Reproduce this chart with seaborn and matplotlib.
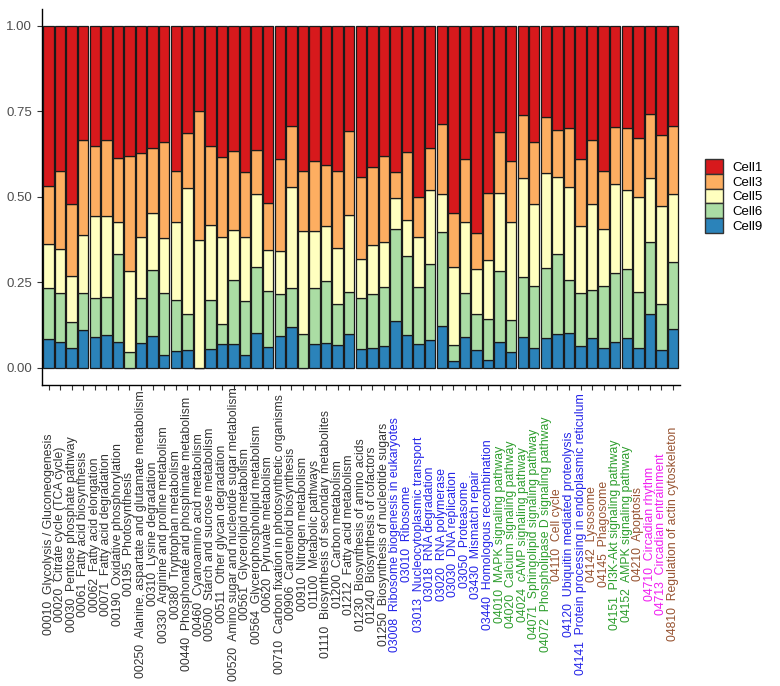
import matplotlib
matplotlib.use("Agg")
import matplotlib.pyplot as plt
from matplotlib.patches import Patch
import seaborn as sns
import pandas as pd
import numpy as np

pathways = [
    "00010  Glycolysis / Gluconeogenesis",
    "00020  Citrate cycle (TCA cycle)",
    "00030  Pentose phosphate pathway",
    "00061  Fatty acid biosynthesis",
    "00062  Fatty acid elongation",
    "00071  Fatty acid degradation",
    "00190  Oxidative phosphorylation",
    "00195  Photosynthesis",
    "00250  Alanine, aspartate and glutamate metabolism",
    "00310  Lysine degradation",
    "00330  Arginine and proline metabolism",
    "00380  Tryptophan metabolism",
    "00440  Phosphonate and phosphinate metabolism",
    "00460  Cyanoamino acid metabolism",
    "00500  Starch and sucrose metabolism",
    "00511  Other glycan degradation",
    "00520  Amino sugar and nucleotide sugar metabolism",
    "00561  Glycerolipid metabolism",
    "00564  Glycerophospholipid metabolism",
    "00620  Pyruvate metabolism",
    "00710  Carbon fixation in photosynthetic organisms",
    "00906  Carotenoid biosynthesis",
    "00910  Nitrogen metabolism",
    "01100  Metabolic pathways",
    "01110  Biosynthesis of secondary metabolites",
    "01200  Carbon metabolism",
    "01212  Fatty acid metabolism",
    "01230  Biosynthesis of amino acids",
    "01240  Biosynthesis of cofactors",
    "01250  Biosynthesis of nucleotide sugars",
    "03008  Ribosome biogenesis in eukaryotes",
    "03010  Ribosome",
    "03013  Nucleocytoplasmic transport",
    "03018  RNA degradation",
    "03020  RNA polymerase",
    "03030  DNA replication",
    "03050  Proteasome",
    "03430  Mismatch repair",
    "03440  Homologous recombination",
    "04010  MAPK signaling pathway",
    "04020  Calcium signaling pathway",
    "04024  cAMP signaling pathway",
    "04071  Sphingolipid signaling pathway",
    "04072  Phospholipase D signaling pathway",
    "04110  Cell cycle",
    "04120  Ubiquitin mediated proteolysis",
    "04141  Protein processing in endoplasmic reticulum",
    "04142  Lysosome",
    "04145  Phagosome",
    "04151  PI3K-Akt signaling pathway",
    "04152  AMPK signaling pathway",
    "04210  Apoptosis",
    "04710  Circadian rhythm",
    "04713  Circadian entrainment",
    "04810  Regulation of actin cytoskeleton",
]

# label colour groups (k=black, b=blue, g=green, n=brown, m=magenta)
label_groups = (["k"] * 30 + ["b"] * 9 + ["g"] * 5 + ["n"] + ["b"] * 2
                + ["n"] * 2 + ["g"] * 2 + ["n"] + ["m"] * 2 + ["n"])

cell9 = [0.083, 0.076, 0.057, 0.110, 0.091, 0.096, 0.076, 0.000, 0.073, 0.094,
         0.039, 0.049, 0.051, 0.000, 0.055, 0.070, 0.070, 0.037, 0.103, 0.061,
         0.093, 0.118, 0.000, 0.071, 0.074, 0.066, 0.098, 0.055, 0.059, 0.064,
         0.137, 0.096, 0.071, 0.081, 0.122, 0.020, 0.091, 0.052, 0.022, 0.076,
         0.045, 0.089, 0.058, 0.086, 0.098, 0.103, 0.063, 0.086, 0.059, 0.076,
         0.086, 0.057, 0.157, 0.052, 0.115]
cell6 = [0.149, 0.144, 0.077, 0.110, 0.112, 0.112, 0.257, 0.047, 0.132, 0.191,
         0.181, 0.149, 0.105, 0.000, 0.143, 0.057, 0.188, 0.158, 0.192, 0.164,
         0.124, 0.116, 0.098, 0.161, 0.180, 0.121, 0.124, 0.148, 0.158, 0.171,
         0.268, 0.231, 0.166, 0.224, 0.274, 0.046, 0.129, 0.104, 0.122, 0.208,
         0.094, 0.177, 0.181, 0.207, 0.236, 0.155, 0.157, 0.143, 0.180, 0.202,
         0.202, 0.165, 0.211, 0.134, 0.195]
cell5 = [0.131, 0.126, 0.134, 0.168, 0.240, 0.235, 0.094, 0.236, 0.178, 0.167,
         0.160, 0.227, 0.370, 0.374, 0.219, 0.254, 0.145, 0.188, 0.213, 0.119,
         0.125, 0.295, 0.302, 0.168, 0.160, 0.164, 0.224, 0.114, 0.142, 0.133,
         0.090, 0.105, 0.144, 0.216, 0.111, 0.229, 0.205, 0.134, 0.171, 0.228,
         0.286, 0.288, 0.240, 0.277, 0.224, 0.271, 0.194, 0.250, 0.168, 0.259,
         0.233, 0.276, 0.186, 0.288, 0.198]
cell3 = [0.168, 0.230, 0.212, 0.278, 0.206, 0.223, 0.187, 0.337, 0.244, 0.191,
         0.281, 0.151, 0.159, 0.376, 0.232, 0.236, 0.231, 0.188, 0.128, 0.138,
         0.267, 0.178, 0.176, 0.205, 0.179, 0.225, 0.247, 0.241, 0.229, 0.251,
         0.078, 0.198, 0.119, 0.123, 0.207, 0.159, 0.185, 0.103, 0.197, 0.178,
         0.179, 0.185, 0.182, 0.164, 0.137, 0.173, 0.196, 0.187, 0.168, 0.166,
         0.179, 0.175, 0.187, 0.206, 0.199]
cell1 = [0.469, 0.424, 0.520, 0.334, 0.351, 0.334, 0.386, 0.380, 0.373, 0.357,
         0.339, 0.424, 0.315, 0.250, 0.351, 0.383, 0.366, 0.429, 0.364, 0.518,
         0.391, 0.293, 0.424, 0.395, 0.407, 0.424, 0.307, 0.442, 0.412, 0.381,
         0.427, 0.370, 0.500, 0.356, 0.286, 0.546, 0.390, 0.607, 0.488, 0.310,
         0.396, 0.261, 0.339, 0.266, 0.305, 0.298, 0.390, 0.334, 0.425, 0.297,
         0.300, 0.327, 0.259, 0.320, 0.293]

cells = ["Cell1", "Cell3", "Cell5", "Cell6", "Cell9"]
cell_colors = {"Cell1": "#D7191C", "Cell3": "#FDAE61", "Cell5": "#FFFFBF",
               "Cell6": "#ABDDA4", "Cell9": "#2B83BA"}
group_colors = {"k": "#333333", "b": "#2424E8", "g": "#2E9E2E",
                "n": "#975230", "m": "#F01EF0"}

df = pd.DataFrame({"pathway": pathways, "Cell1": cell1, "Cell3": cell3,
                   "Cell5": cell5, "Cell6": cell6, "Cell9": cell9})

fig = plt.figure(figsize=(7.8, 6.86), dpi=100)
ax = fig.add_axes([0.0533, 0.4388, 0.8185, 0.5487])

plt.rcParams["font.family"] = ["Liberation Sans", "DejaVu Sans"]

bottom = np.zeros(len(df))
for c in ["Cell9", "Cell6", "Cell5", "Cell3", "Cell1"]:
    sns.barplot(data=df, x="pathway", y=c, bottom=bottom, color=cell_colors[c],
                width=0.9, edgecolor="#1a1a1a", linewidth=0.9, saturation=1,
                ax=ax, order=pathways)
    bottom = bottom + df[c].values

ax.set_xlim(-0.6, len(pathways) - 0.4)
ax.set_ylim(-0.05, 1.05)
ax.set_yticks([0, 0.25, 0.5, 0.75, 1.0])
ax.set_yticklabels(["0.00", "0.25", "0.50", "0.75", "1.00"],
                   fontsize=9.5, color="#4D4D4D", family="Liberation Sans")
ax.set_xlabel("")
ax.set_ylabel("")
for s in ["top", "right"]:
    ax.spines[s].set_visible(False)
for s in ["left", "bottom"]:
    ax.spines[s].set_linewidth(1.0)
    ax.spines[s].set_color("black")
ax.tick_params(axis="both", length=3.5, width=0.8, color="#333333")
ax.tick_params(axis="x", pad=104)
ax.set_xticks(range(len(pathways)))
ax.set_xticklabels(pathways, rotation=90, fontsize=8.8, va="center",
                   ha="center", family="Liberation Sans")
for lab, g in zip(ax.get_xticklabels(), label_groups):
    lab.set_color(group_colors[g])

handles = [Patch(facecolor=cell_colors[c], edgecolor="#333333", linewidth=1.0,
                 label=c) for c in cells]
fig.legend(handles=handles, loc="center left",
           bbox_to_anchor=(693 / 780, 1 - 196 / 686), frameon=False,
           handlelength=1.35, handleheight=1.35,
           labelspacing=0.0, handletextpad=0.7,
           prop={"family": "Liberation Sans", "size": 9.5})

fig.savefig("out.png", dpi=100)
